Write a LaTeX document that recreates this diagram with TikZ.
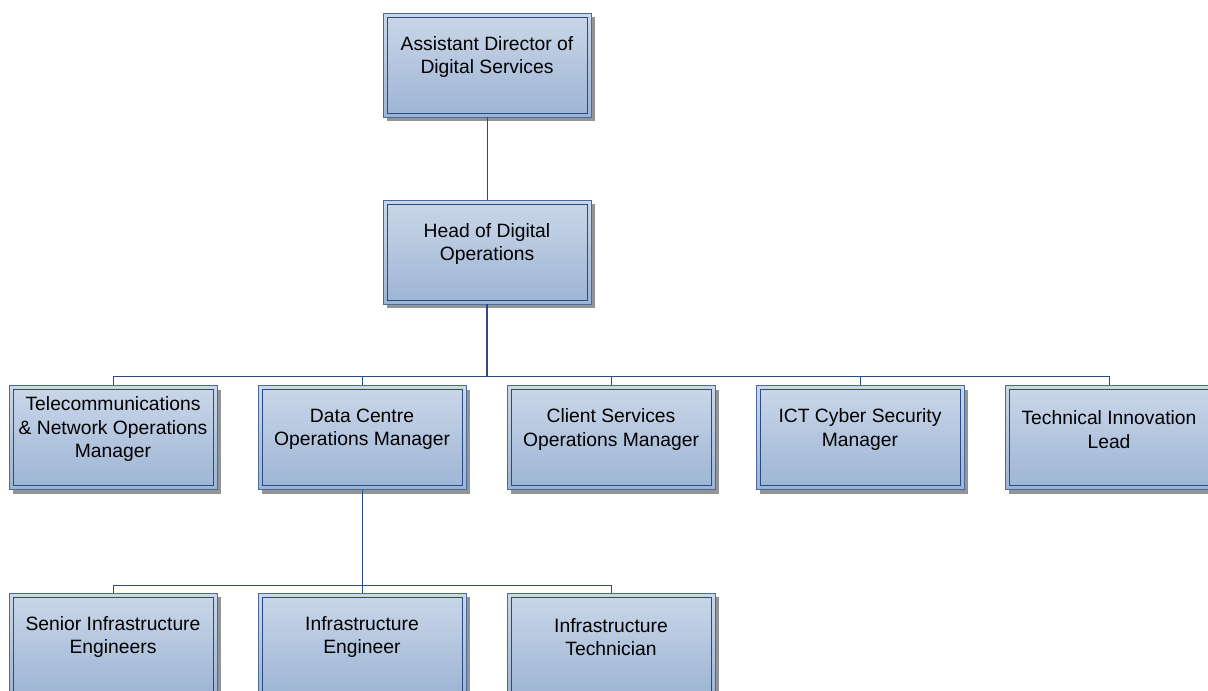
\documentclass[tikz,border=0pt]{standalone}
\usepackage{fontspec}
\setmainfont{Liberation Sans}
\usetikzlibrary{shadows}
\definecolor{boxtop}{RGB}{203,215,233}
\definecolor{boxbot}{RGB}{156,180,212}
\definecolor{boxouter}{RGB}{72,106,158}
\definecolor{boxline}{RGB}{42,74,128}
\definecolor{conline}{RGB}{45,75,130}
\tikzset{
  orgbox/.style={rectangle, minimum width=208pt, minimum height=104pt, inner sep=0pt,
    top color=boxtop, bottom color=boxbot, draw=boxouter, line width=0.9pt,
    drop shadow={shadow xshift=4pt, shadow yshift=-4pt, fill=black!42, opacity=1},
    path picture={\draw[boxline, line width=0.9pt]
      ([shift={(4pt,4pt)}]path picture bounding box.south west) rectangle
      ([shift={(-4pt,-4pt)}]path picture bounding box.north east);},
    label={[yshift=8pt, align=center, font=\fontsize{19.3}{23.5}\selectfont, text=black]center:#1}},
  conn/.style={draw=conline, line width=0.8pt},
  mainconn/.style={draw=conline, line width=1.5pt}
}
\begin{document}
\begin{tikzpicture}[x=1pt, y=-1pt]
\path[use as bounding box] (0,0) rectangle (1208,691);
\clip (0,0) rectangle (1208,691);
\node[orgbox={Assistant Director of\\Digital Services}] (ad) at (487,65) {};
\node[orgbox={Head of Digital\\Operations}] (hd) at (487,252) {};
\node[orgbox={Telecommunications\\\& Network Operations\\Manager}] (tel) at (113,437.5) {};
\node[orgbox={Data Centre\\Operations Manager}] (dc) at (362,437.5) {};
\node[orgbox={Client Services\\Operations Manager}] (cs) at (611,437.5) {};
\node[orgbox={ICT Cyber Security\\Manager}] (ict) at (860,437.5) {};
\node[orgbox={Technical Innovation\\Lead}] (tech) at (1109,437.5) {};
\node[orgbox={Senior Infrastructure\\Engineers}] (sie) at (113,645) {};
\node[orgbox={Infrastructure\\Engineer}] (ie) at (362,645) {};
\node[orgbox={Infrastructure\\Technician}] (it) at (611,645) {};
\coordinate (bus1) at (487,376);
\coordinate (bus2) at (362,585);
\draw[conn] (ad.south) -- (hd.north);
\draw[mainconn] (hd.south) -- (bus1);
\draw[conn] (bus1) -| (tel.north);
\draw[conn] (bus1) -| (dc.north);
\draw[conn] (bus1) -| (cs.north);
\draw[conn] (bus1) -| (ict.north);
\draw[conn] (bus1) -| (tech.north);
\draw[conn] (dc.south) -- (bus2);
\draw[conn] (bus2) -| (sie.north);
\draw[conn] (bus2) -| (ie.north);
\draw[conn] (bus2) -| (it.north);
\end{tikzpicture}
\end{document}
